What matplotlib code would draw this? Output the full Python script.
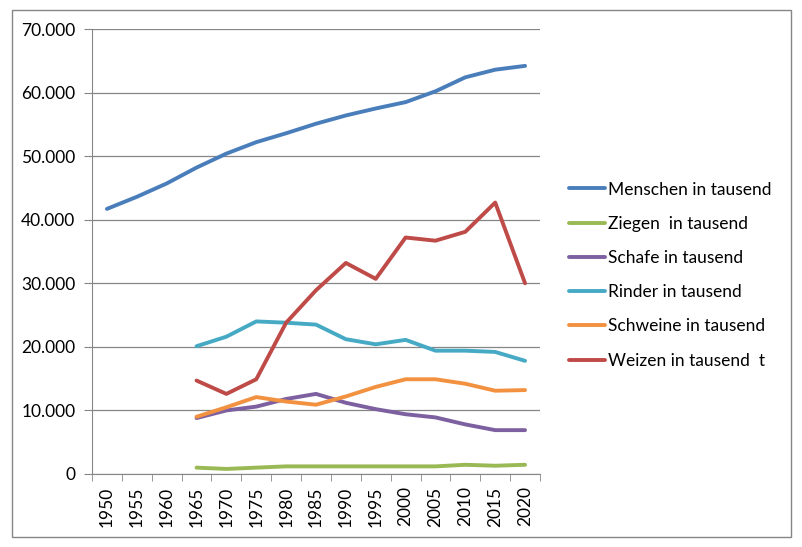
import matplotlib.pyplot as plt
from matplotlib.patches import Rectangle
from matplotlib.ticker import FuncFormatter

# DATA
years = ["1950", "1955", "1960", "1965", "1970", "1975", "1980", "1985",
         "1990", "1995", "2000", "2005", "2010", "2015", "2020"]

menschen = [41700, 43600, 45700, 48200, 50400, 52200, 53600, 55100,
            56400, 57500, 58500, 60200, 62400, 63600, 64200]
ziegen = [None, None, None, 1000, 800, 1000, 1200, 1200,
          1200, 1200, 1200, 1200, 1450, 1300, 1450]
schafe = [None, None, None, 8800, 10000, 10600, 11800, 12600,
          11200, 10200, 9400, 8900, 7800, 6900, 6900]
rinder = [None, None, None, 20100, 21600, 24000, 23800, 23500,
          21200, 20400, 21100, 19400, 19400, 19200, 17800]
schweine = [None, None, None, 9000, 10500, 12100, 11400, 10900,
            12200, 13700, 14900, 14900, 14200, 13100, 13200]
weizen = [None, None, None, 14700, 12600, 14900, 23800, 28900,
          33200, 30700, 37200, 36700, 38100, 42700, 30000]

labels = ["Menschen in tausend", "Ziegen  in tausend", "Schafe in tausend",
          "Rinder in tausend", "Schweine in tausend", "Weizen in tausend  t"]
colors = ["#4A7EBB", "#98B954", "#7D60A0", "#46AAC5", "#F2913F", "#BE4B48"]

plt.rcParams['font.family'] = ['Lato', 'DejaVu Sans']

fig = plt.figure(figsize=(8.03, 5.47), dpi=100)
ax = fig.add_axes([92 / 803, (547 - 474) / 547, (540 - 92) / 803, (474 - 29) / 547])

# outer chart frame
fig.patches.append(Rectangle((12 / 803, 10 / 547), 779 / 803, 527 / 547,
                             transform=fig.transFigure, fill=False,
                             edgecolor="#868686", linewidth=1))

x = list(range(len(years)))
for series, lab, col in zip([menschen, ziegen, schafe, rinder, schweine, weizen], labels, colors):
    xs = [i for i, v in zip(x, series) if v is not None]
    ys = [v for v in series if v is not None]
    ax.plot(xs, ys, color=col, linewidth=2.8, label=lab,
            solid_capstyle="round", solid_joinstyle="round")

ax.set_xlim(-0.5, len(years) - 0.5)
ax.set_ylim(0, 70000)
ax.set_yticks(range(0, 70001, 10000))
ax.yaxis.set_major_formatter(FuncFormatter(lambda v, p: f"{int(v):,}".replace(",", ".")))
ax.set_xticks(x)
ax.set_xticklabels(years, rotation=90)
ax.set_xticks([i - 0.5 for i in range(len(years) + 1)], minor=True)
ax.tick_params(axis="x", which="major", length=0, pad=9, labelsize=12.5)
ax.tick_params(axis="x", which="minor", length=5, color="#868686", direction="out")
ax.tick_params(axis="y", length=6, color="#868686", labelsize=12.5, pad=6)

ax.grid(axis="y", color="#868686", linewidth=0.9)
ax.set_axisbelow(True)
for s in ["top", "right"]:
    ax.spines[s].set_visible(False)
for s in ["left", "bottom"]:
    ax.spines[s].set_color("#868686")

ax.legend(loc="center left", bbox_to_anchor=(553 / 803, 0.497),
          bbox_transform=fig.transFigure, frameon=False, fontsize=12.5,
          handlelength=2.1, handletextpad=0.15, labelspacing=1.05)

fig.savefig("out.png", dpi=100)
